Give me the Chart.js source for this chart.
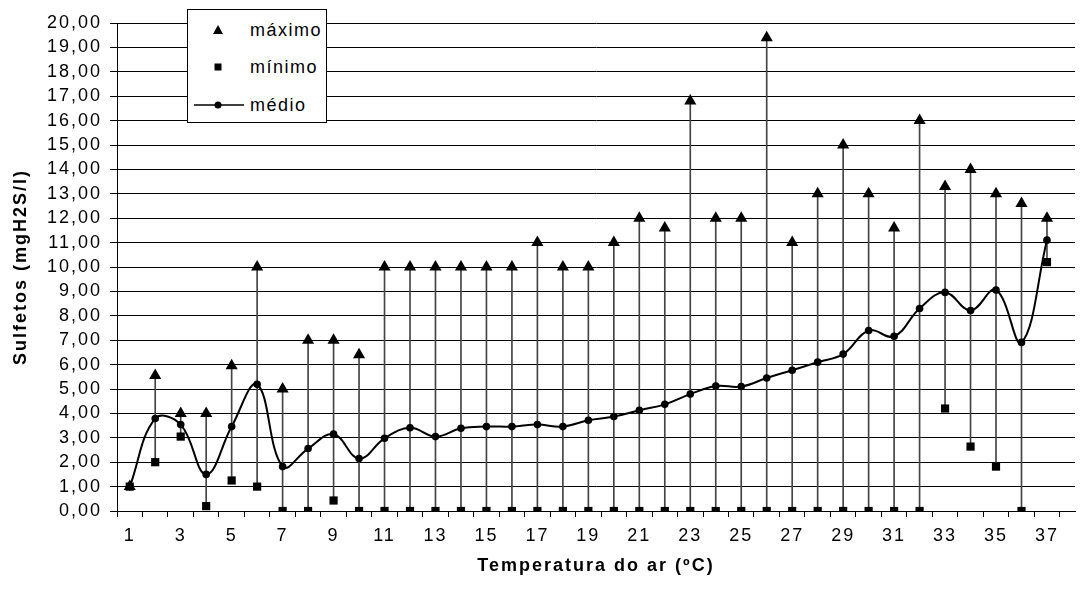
<!DOCTYPE html>
<html>
<head>
<meta charset="utf-8">
<script src="https://cdn.jsdelivr.net/npm/chart.js@4/dist/chart.umd.min.js"></script>
<style>
  body { margin: 0; background: #fff; }
  #wrap { position: relative; width: 1082px; height: 592px; }
  #legend {
    position: absolute; left: 187px; top: 9px; width: 138px; height: 112px;
    border: 1px solid #000; background: #fff;
    font-family: 'Liberation Sans', Arial, sans-serif; font-size: 18px; letter-spacing: 1.5px; color: #000;
  }
  #legend .row { position: absolute; left: 0; width: 138px; height: 22px; line-height: 22px; }
  #legend .row svg { position: absolute; left: 0; top: 0; }
  #legend .row span { position: absolute; left: 62px; top: 0; }
</style>
</head>
<body>
<div id="wrap">
  <canvas id="myChart" width="1082" height="592"></canvas>
  <div id="legend">
    <div class="row" style="top:9px">
      <svg width="60" height="22"><polygon points="30,6 35,15 25,15" fill="#000"/></svg>
      <span>máximo</span>
    </div>
    <div class="row" style="top:46px">
      <svg width="60" height="22"><rect x="26.5" y="7.5" width="7" height="7" fill="#000"/></svg>
      <span>mínimo</span>
    </div>
    <div class="row" style="top:84px">
      <svg width="60" height="22"><line x1="6" y1="11" x2="56" y2="11" stroke="#000" stroke-width="1.5"/><circle cx="30" cy="11" r="3.5" fill="#000"/></svg>
      <span>médio</span>
    </div>
  </div>
</div>
<script>
// categories (temperatura do ar)
const temps = [1, 2, 3, 4, 5, 6, 7, 8, 9, 10, 11, 12, 13, 14, 15, 16, 17, 18, 19,
               20, 21, 22, 23, 24, 25, 26, 27, 28, 29, 30, 31, 32, 33, 34, 35, 36, 37];

// sulfetos (mgH2S/l)
const maxVals = [1.0, 5.55, 4.0, 4.0, 5.95, 10.0, 5.0, 7.0, 7.0, 6.4,
                 10.0, 10.0, 10.0, 10.0, 10.0, 10.0, 11.0, 10.0, 10.0, 11.0,
                 12.0, 11.6, 16.8, 12.0, 12.0, 19.4, 11.0, 13.0, 15.0, 13.0,
                 11.6, 16.0, 13.3, 14.0, 13.0, 12.6, 12.0];
const minVals = [1.0, 2.0, 3.05, 0.2, 1.25, 1.0, 0, 0, 0.43, 0,
                 0, 0, 0, 0, 0, 0, 0, 0, 0, 0,
                 0, 0, 0, 0, 0, 0, 0, 0, 0, 0,
                 0, 0, 4.2, 2.64, 1.82, 0, 10.2];
const meanVals = [1.0, 3.79, 3.54, 1.5, 3.46, 5.19, 1.82, 2.56, 3.15, 2.15,
                  2.98, 3.41, 3.05, 3.39, 3.46, 3.46, 3.54, 3.46, 3.72, 3.87,
                  4.13, 4.37, 4.79, 5.12, 5.1, 5.45, 5.77, 6.1, 6.43, 7.4,
                  7.16, 8.3, 8.96, 8.22, 9.06, 6.91, 11.1];

const yTicks = [0, 20];

// tick marks between categories, labels on the categories
const xTicks = [];
temps.forEach(t => { xTicks.push(t - 0.5); xTicks.push(t); });
xTicks.push(temps[temps.length - 1] + 0.5);

Chart.defaults.font.family = "'Liberation Sans', Arial, sans-serif";
Chart.defaults.color = '#000';

// Excel-ish wide text
const spacing = {
    id: 'spacing',
    beforeUpdate(chart) { chart.ctx.letterSpacing = '2px'; },
    beforeDraw(chart) { chart.ctx.letterSpacing = '2px'; }
};

const ctx = document.getElementById('myChart').getContext('2d');
const myChart = new Chart(ctx, {
    data: {
        datasets: [{
            type: 'line',
            label: 'máximo',
            data: temps.map((t, i) => ({x: t, y: maxVals[i]})),
            showLine: false,
            pointStyle: 'triangle',
            pointRadius: 7,
            pointBackgroundColor: '#000',
            pointBorderColor: '#000',
            pointBorderWidth: 0,
            order: 1
        }, {
            type: 'line',
            label: 'mínimo',
            data: temps.map((t, i) => ({x: t, y: minVals[i]})),
            showLine: false,
            pointStyle: 'rect',
            pointRadius: 5.8,
            pointBackgroundColor: '#000',
            pointBorderColor: '#000',
            pointBorderWidth: 0,
            order: 1
        }, {
            type: 'line',
            label: 'médio',
            data: temps.map((t, i) => ({x: t, y: meanVals[i]})),
            borderColor: '#000',
            borderWidth: 2,
            tension: 0.4,
            pointRadius: 3.8,
            pointBackgroundColor: '#000',
            pointBorderWidth: 0,
            order: 0
        }, {
            // high-low lines
            type: 'bar',
            label: 'hl',
            data: temps.map((t, i) => ({x: t, y: [minVals[i], maxVals[i]]})),
            backgroundColor: '#444',
            barThickness: 1,
            order: 5
        }]
    },
    options: {
        responsive: false,
        animation: false,
        layout: { padding: { top: 23, right: 0, left: 0, bottom: 0 } },
        plugins: {
            legend: { display: false },
            tooltip: { enabled: false }
        },
        scales: {
            x: {
                type: 'linear',
                bounds: 'data',
                min: 0.5,
                max: 38.1,
                offset: false,
                afterBuildTicks: scale => { scale.ticks = xTicks.map(v => ({value: v})); },
                afterFit: scale => { scale.height = 81; },
                ticks: {
                    autoSkip: false,
                    maxRotation: 0,
                    minRotation: 0,
                    padding: 8,
                    font: { size: 18 },
                    callback: v => (Number.isInteger(v) && v % 2 === 1) ? String(v) : ''
                },
                grid: {
                    offset: false,
                    drawOnChartArea: false,
                    tickLength: 6,
                    tickColor: c => Number.isInteger(c.tick.value) ? 'rgba(0,0,0,0)' : '#000'
                },
                border: { color: '#000', width: 1 },
                title: {
                    display: true,
                    text: 'Temperatura do ar (ºC)',
                    font: { size: 18, weight: 'bold' },
                    padding: { top: 0, bottom: 15 }
                }
            },
            y: {
                min: yTicks[0],
                max: yTicks[1],
                afterFit: scale => { scale.width = 117; },
                ticks: {
                    stepSize: 1,
                    autoSkip: false,
                    padding: 8,
                    font: { size: 18 },
                    callback: v => v.toFixed(2).replace('.', ',')
                },
                grid: { color: '#000', lineWidth: 1, tickLength: 7 },
                border: { color: '#000', width: 1 },
                title: {
                    display: true,
                    text: 'Sulfetos (mgH2S/l)',
                    font: { size: 18, weight: 'bold' },
                    padding: { top: 10, bottom: 0 }
                }
            }
        }
    },
    plugins: [spacing]
});
</script>
</body>
</html>
